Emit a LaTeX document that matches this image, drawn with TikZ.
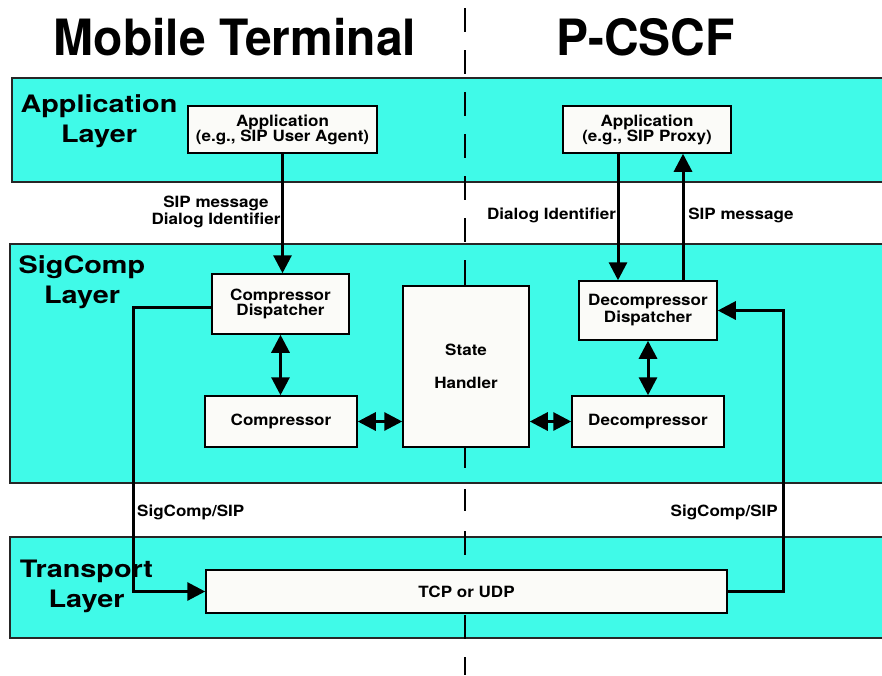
\documentclass[tikz,border=0pt]{standalone}
\usepackage{fontspec}
\setmainfont{TeX Gyre Heros}
\newfontfamily\titlefont{TeX Gyre Heros}[FakeStretch=0.96]
\newfontfamily\layerfont{TeX Gyre Heros}[FakeStretch=1.2]
\newfontfamily\smallfont{TeX Gyre Heros}[FakeStretch=1.1]
\usetikzlibrary{arrows.meta}
\definecolor{layercyan}{RGB}{64,250,232}
\definecolor{boxwhite}{RGB}{251,251,248}
\begin{document}
\begin{tikzpicture}[x=1pt, y=-1pt,
  band/.style={draw=black!85, line width=1.1pt, fill=layercyan},
  blk/.style={draw=black, line width=1.5pt, fill=boxwhite, inner sep=0pt,
    align=center, font=\smallfont\bfseries\fontsize{15.5}{15}\selectfont},
  title/.style={inner sep=0pt, font=\titlefont\bfseries\fontsize{50}{50}\selectfont},
  layerlabel/.style={inner sep=0pt, align=center,
    font=\layerfont\bfseries\fontsize{24}{30}\selectfont},
  lbl/.style={inner sep=0pt, align=center,
    font=\smallfont\bfseries\fontsize{15.5}{17}\selectfont},
  flow/.style={line width=3pt, -{Triangle[length=18pt,width=18pt]}},
  dflow/.style={line width=3pt, {Triangle[length=18pt,width=18pt]}-{Triangle[length=18pt,width=18pt]}},
  divider/.style={line width=2.4pt}
]
\useasboundingbox (0,0) rectangle (882,675);

% layer bands
\draw[band] (12,78) rectangle (892,182);
\draw[band] (10,244) rectangle (892,483);
\draw[band] (10,537) rectangle (892,638);

% divider between the two sides
\foreach \a/\b in {8/32,50/74,92/116,134/158,176/200,218/242,260/286,
                   440/468,489/511,531/555,615/639,657/675}
  \draw[divider] (465,\a) -- (465,\b);

% headings
\node[title, anchor=base] (mt) at (235,55) {Mobile Terminal};
\node[title, anchor=base] (pc) at (645.5,55) {P-CSCF};

% layer names
\node[layerlabel] (lapp) at (99,121) {Application\\Layer};
\node[layerlabel] (lsig) at (82,282) {SigComp\\Layer};
\node[layerlabel] (ltr) at (86.5,586) {Transport\\Layer};

% functional blocks
\node[blk, minimum width=189pt, minimum height=47pt] (appL) at (282.5,129.5)
  {Application\\(e.g., SIP User Agent)};
\node[blk, minimum width=168pt, minimum height=47pt] (appR) at (647,129.5)
  {Application\\(e.g., SIP Proxy)};
\node[blk, minimum width=137pt, minimum height=60pt] (cdisp) at (280.5,304)
  {Compressor\\Dispatcher};
\node[blk, minimum width=152pt, minimum height=51pt] (comp) at (281,421.5)
  {Compressor};
\node[blk, minimum width=126pt, minimum height=161pt] (state) at (466,366.5)
  {State\\[18pt]Handler};
\node[blk, minimum width=138pt, minimum height=59pt, font=\smallfont\bfseries\fontsize{15.5}{17}\selectfont] (ddisp) at (648,310.5)
  {Decompressor\\Dispatcher};
\node[blk, minimum width=152pt, minimum height=51pt] (decomp) at (648,421.5)
  {Decompressor};
\node[blk, minimum width=521pt, minimum height=43pt] (tcp) at (466.5,591.5)
  {TCP or UDP};

% bend points of the transport loops
\coordinate (lbend) at (133,0);
\coordinate (rbend) at (783,0);

% connectors
\draw[flow] (appL.south) -- (appL.south |- cdisp.north);
\draw[flow] ([xshift=-29pt]appR.south) -- ([xshift=-29pt]appR.south |- ddisp.north);
\draw[flow] ([xshift=35pt]ddisp.north) -- ([xshift=35pt]ddisp.north |- appR.south);
\draw[dflow] (cdisp.south) -- (cdisp.south |- comp.north);
\draw[dflow] (ddisp.south) -- (ddisp.south |- decomp.north);
\draw[dflow] (comp.east) -- (comp.east -| state.west);
\draw[dflow] (state.east |- decomp.west) -- (decomp.west);
\draw[flow] ([yshift=-3pt]cdisp.west) -- ([yshift=-3pt]cdisp.west -| lbend)
  -- (lbend |- tcp.west) -- (tcp.west);
\draw[flow] (tcp.east) -- (tcp.east -| rbend) -- (rbend |- ddisp.east) -- (ddisp.east);

% connector labels
\node[lbl] (lsipdlg) at (216,212) {SIP message\\Dialog Identifier};
\node[lbl, anchor=base] (ldlg) at (551.5,219) {Dialog Identifier};
\node[lbl, anchor=base] (lsip) at (741,219) {SIP message};
\node[lbl, anchor=base west] (lscl) at (137,516) {SigComp/SIP};
\node[lbl, anchor=base east] (lscr) at (778,516) {SigComp/SIP};
\end{tikzpicture}
\end{document}
